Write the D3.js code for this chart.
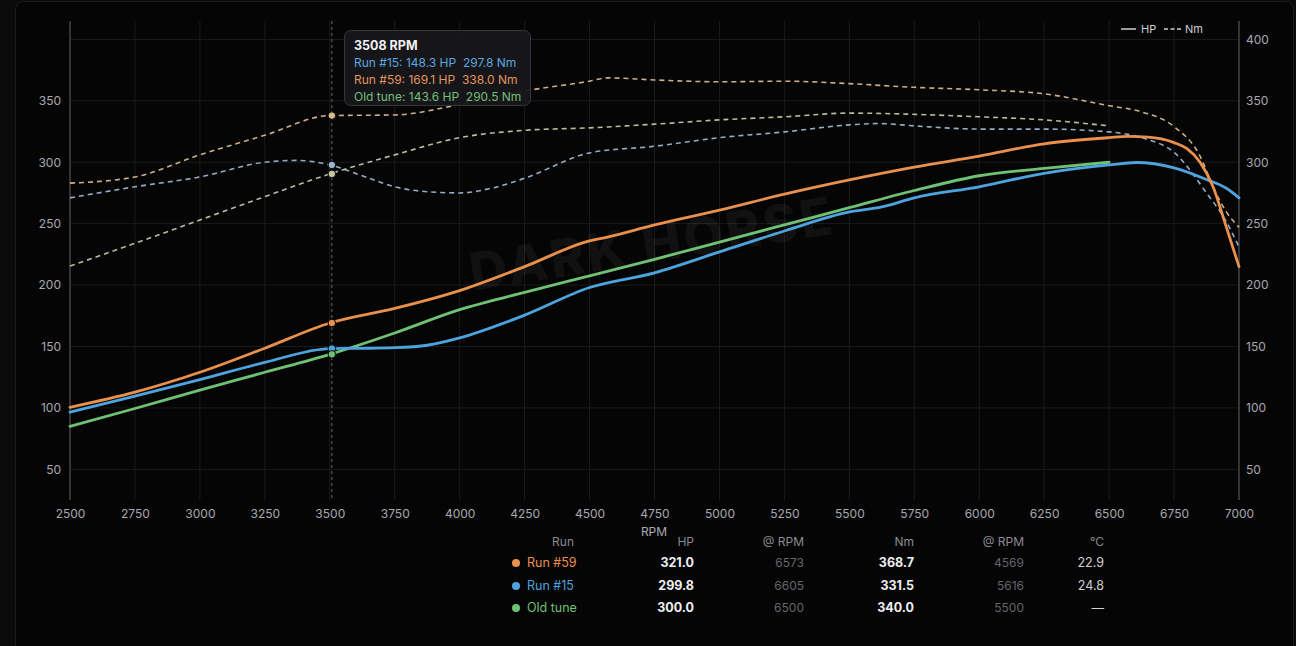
<!DOCTYPE html>
<html>
<head>
<meta charset="utf-8">
<script src="https://cdn.jsdelivr.net/npm/d3@7/dist/d3.min.js"></script>
<style>
  html,body{margin:0;padding:0;background:#0b0b0c;}
  svg{display:block;font-family:Inter,"Noto Sans",sans-serif;}
</style>
</head>
<body>
<svg id="chart" width="1296" height="646"></svg>
<script>
// ---------- data ----------
const seriesNames = ["Run #15", "Run #59", "Old tune"];

const rpm59 = [2500,2750,3000,3250,3500,3750,4000,4250,4500,4569,4750,5000,5250,5500,5750,6000,6250,6500,6573,6650,6750,6800,6850,6900,6950,7000];
const hp59  = [100.5,112.8,129,148.6,169.1,181,195.5,215,236,239,249,261,274,285.6,296,305,315,320,321,320.5,316,311,300,280,248,215];

const rpm15 = [2500,2750,3000,3250,3500,3625,3750,3875,4000,4250,4500,4750,5000,5250,5500,5625,5750,6000,6250,6500,6605,6750,6875,6950,7000];
const hp15  = [96.5,109.5,123,137,148.3,148.5,149,151,157,175.5,198,210,227,244,259.5,263.6,271,280,291,297.8,299.8,295.5,286,279,271];

const rpmOld = [2500,2750,3000,3250,3500,3750,4000,4250,4500,4750,5000,5250,5500,5750,6000,6250,6500];
const hpOld  = [85,99.5,114.5,129,143.6,161,180,194,207.5,221,235,249,263,277,289,295,300];

const rpmNm59 = [2500,2750,3000,3250,3500,3750,4000,4250,4500,4569,4750,5000,5250,5500,5750,6000,6250,6500,6625,6750,6850,6900,6950,7000];
const nm59    = [283,288,306,322,338,338.5,347,358,366,368.7,367,365.5,366,364,361,359,355.7,346,341,329,305,280,260,247];

const rpmNm15 = [2500,2750,3000,3250,3375,3500,3625,3750,3875,4000,4125,4250,4500,4750,5000,5250,5500,5616,5750,6000,6250,6500,6625,6750,6875,6950,7000];
const nm15    = [271,280,288,300,301.5,297.8,289,280,276,275,279,287,307.6,313,320,324.7,330.4,331.5,329.6,327,327,324.7,320,308,275,252,231];

const rpmNmOld = [2500,2750,3000,3250,3500,3750,4000,4250,4500,4750,5000,5250,5500,5750,6000,6250,6500];
const nmOld    = [215.5,234,253,272,290.5,306,320,326,328,331,334.5,337,340,339,337,334.5,329.6];

const xTicks = [2500,2750,3000,3250,3500,3750,4000,4250,4500,4750,5000,5250,5500,5750,6000,6250,6500,6750,7000];
const yTicksLeft  = [50,100,150,200,250,300,350];
const yTicksRight = [50,100,150,200,250,300,350,400];

const cursorRpm = 3508;
const cursorHp = [148.3, 169.1, 143.6];   // Run #15, Run #59, Old tune
const cursorNm = [297.8, 338.0, 290.5];

const tableRuns    = ["Run #59", "Run #15", "Old tune"];
const tablePeakHp  = ["321.0", "299.8", "300.0"];
const tableHpRpm   = ["6573", "6605", "6500"];
const tablePeakNm  = ["368.7", "331.5", "340.0"];
const tableNmRpm   = ["4569", "5616", "5500"];
const tableTemp    = ["22.9", "24.8", "—"];
const tableHeaders = ["Run", "HP", "@ RPM", "Nm", "@ RPM", "°C"];

// ---------- styles ----------
const hpColor = {"Run #15":"#4da3de", "Run #59":"#e8904c", "Old tune":"#6fc174"};
const nmColor = {"Run #15":"#9db4cf", "Run #59":"#d9b98c", "Old tune":"#c2c8a2"};
const tipColor = {"Run #15":"#5aa7de", "Run #59":"#e0955a", "Old tune":"#72bf76"};

const svg = d3.select("#chart");

// card
svg.append("rect").attr("x",15.5).attr("y",1.5).attr("width",1278).attr("height",680)
  .attr("rx",8).attr("fill","#050506").attr("stroke","#1c1c1f");

const x = d3.scaleLinear().domain([2500,7000]).range([70,1239]);
const y = d3.scaleLinear().domain([25,415]).range([500,21]);

// grid
const grid = svg.append("g");
grid.selectAll("line.v").data(xTicks).join("line")
  .attr("x1",d=>x(d)).attr("x2",d=>x(d)).attr("y1",21).attr("y2",500)
  .attr("stroke","#1b1b1e").attr("stroke-width",1);
grid.selectAll("line.h").data(yTicksRight).join("line")
  .attr("x1",70).attr("x2",1239).attr("y1",d=>y(d)).attr("y2",d=>y(d))
  .attr("stroke","#1b1b1e").attr("stroke-width",1);

// watermark
svg.append("text").attr("x",655).attr("y",262)
  .attr("transform","rotate(-9,655,262)")
  .attr("text-anchor","middle").attr("font-size",52).attr("font-weight",800)
  .attr("letter-spacing",3).attr("fill","#ffffff").attr("fill-opacity",0.05)
  .text("DARK HORSE");

// axes
const axL = svg.append("g").attr("transform","translate(70,0)")
  .call(d3.axisLeft(y).tickValues(yTicksLeft).tickSize(0).tickPadding(9));
const axR = svg.append("g").attr("transform","translate(1239,0)")
  .call(d3.axisRight(y).tickValues(yTicksRight).tickSize(0).tickPadding(7));
const axB = svg.append("g").attr("transform","translate(0,500)")
  .call(d3.axisBottom(x).tickValues(xTicks).tickFormat(d3.format("d")).tickSize(0).tickPadding(9));
[axL,axR,axB].forEach(a=>{
  a.select(".domain").remove();
  a.selectAll("text").attr("fill","#a9a9ad").attr("font-size",12).attr("font-family","Inter,sans-serif");
});
svg.append("line").attr("x1",70).attr("x2",70).attr("y1",21).attr("y2",500).attr("stroke","#5a5a5e");
svg.append("line").attr("x1",1239).attr("x2",1239).attr("y1",21).attr("y2",500).attr("stroke","#5a5a5e");

// lines
const line = d3.line().x(d=>x(d[0])).y(d=>y(d[1])).curve(d3.curveMonotoneX);
const zip = (a,b)=>a.map((v,i)=>[v,b[i]]);

const nmSeries = [["Run #59",zip(rpmNm59,nm59)],["Run #15",zip(rpmNm15,nm15)],["Old tune",zip(rpmNmOld,nmOld)]];
const hpSeries = [["Old tune",zip(rpmOld,hpOld)],["Run #15",zip(rpm15,hp15)],["Run #59",zip(rpm59,hp59)]];

svg.append("g").selectAll("path").data(nmSeries).join("path")
  .attr("d",d=>line(d[1])).attr("fill","none")
  .attr("stroke",d=>nmColor[d[0]]).attr("stroke-width",1.6)
  .attr("stroke-dasharray","5,4").attr("stroke-opacity",0.95);

svg.append("g").selectAll("path").data(hpSeries).join("path")
  .attr("d",d=>line(d[1])).attr("fill","none")
  .attr("stroke",d=>hpColor[d[0]]).attr("stroke-width",2.8)
  .attr("stroke-linejoin","round").attr("stroke-linecap","round");

// crosshair
svg.append("line").attr("x1",x(cursorRpm)).attr("x2",x(cursorRpm)).attr("y1",21).attr("y2",500)
  .attr("stroke","#6a6a6e").attr("stroke-width",1).attr("stroke-dasharray","3,3");

const dots = svg.append("g");
seriesNames.forEach((n,i)=>{
  dots.append("circle").attr("cx",x(cursorRpm)).attr("cy",y(cursorNm[i])).attr("r",3.8)
    .attr("fill",nmColor[n]).attr("stroke","#050506").attr("stroke-width",1);
  dots.append("circle").attr("cx",x(cursorRpm)).attr("cy",y(cursorHp[i])).attr("r",3.8)
    .attr("fill",hpColor[n]).attr("stroke","#050506").attr("stroke-width",1);
});

// tooltip
const tip = svg.append("g").attr("transform","translate(344,30)");
tip.append("rect").attr("x",0.5).attr("y",0.5).attr("width",186).attr("height",75).attr("rx",6)
  .attr("fill","#17171b").attr("fill-opacity",0.95).attr("stroke","#35353a");
tip.append("text").attr("x",10).attr("y",16).attr("dy","0.35em").attr("font-size",12.5)
  .attr("font-weight",700).attr("fill","#f2f2f2").text(cursorRpm + " RPM");
seriesNames.forEach((n,i)=>{
  tip.append("text").attr("x",10).attr("y",33+i*17).attr("dy","0.35em").attr("font-size",12)
    .attr("fill",tipColor[n]).attr("xml:space","preserve")
    .text(n + ": " + cursorHp[i].toFixed(1) + " HP  " + cursorNm[i].toFixed(1) + " Nm");
});

// legend
const lg = svg.append("g");
lg.append("line").attr("x1",1121).attr("x2",1136).attr("y1",29).attr("y2",29).attr("stroke","#cfcfd2").attr("stroke-width",1.5);
lg.append("text").attr("x",1141).attr("y",29).attr("dy","0.35em").attr("font-size",11).attr("fill","#cfcfd2").text("HP");
lg.append("line").attr("x1",1164).attr("x2",1181).attr("y1",29).attr("y2",29).attr("stroke","#cfcfd2").attr("stroke-width",1.5).attr("stroke-dasharray","4,2.5");
lg.append("text").attr("x",1185).attr("y",29).attr("dy","0.35em").attr("font-size",11).attr("fill","#cfcfd2").text("Nm");

// x label
svg.append("text").attr("x",654).attr("y",532).attr("dy","0.35em").attr("text-anchor","middle")
  .attr("font-size",12).attr("fill","#a9a9ad").text("RPM");

// table
const colX = [574,694,804,914,1024,1104];
const tbl = svg.append("g");
tableHeaders.forEach((h,i)=>{
  tbl.append("text").attr("x",colX[i]).attr("y",542).attr("dy","0.35em").attr("text-anchor","end")
    .attr("font-size",12).attr("fill","#8a8a8f").text(h);
});
const rowY = [563,586,608];
const runColor = {"Run #59":"#e8904c","Run #15":"#4da3de","Old tune":"#6fc174"};
tableRuns.forEach((r,i)=>{
  const yy = rowY[i];
  tbl.append("circle").attr("cx",516).attr("cy",yy).attr("r",4).attr("fill",runColor[r]);
  tbl.append("text").attr("x",527).attr("y",yy).attr("dy","0.35em").attr("font-size",12.5)
    .attr("fill",runColor[r]).text(r);
  tbl.append("text").attr("x",colX[1]).attr("y",yy).attr("dy","0.35em").attr("text-anchor","end")
    .attr("font-size",12.5).attr("font-weight",700).attr("fill","#f0f0f0").text(tablePeakHp[i]);
  tbl.append("text").attr("x",colX[2]).attr("y",yy).attr("dy","0.35em").attr("text-anchor","end")
    .attr("font-size",12).attr("fill","#66666b").text(tableHpRpm[i]);
  tbl.append("text").attr("x",colX[3]).attr("y",yy).attr("dy","0.35em").attr("text-anchor","end")
    .attr("font-size",12.5).attr("font-weight",700).attr("fill","#f0f0f0").text(tablePeakNm[i]);
  tbl.append("text").attr("x",colX[4]).attr("y",yy).attr("dy","0.35em").attr("text-anchor","end")
    .attr("font-size",12).attr("fill","#66666b").text(tableNmRpm[i]);
  tbl.append("text").attr("x",colX[5]).attr("y",yy).attr("dy","0.35em").attr("text-anchor","end")
    .attr("font-size",12.5).attr("fill","#d0d0d3").text(tableTemp[i]);
});
</script>
</body>
</html>
